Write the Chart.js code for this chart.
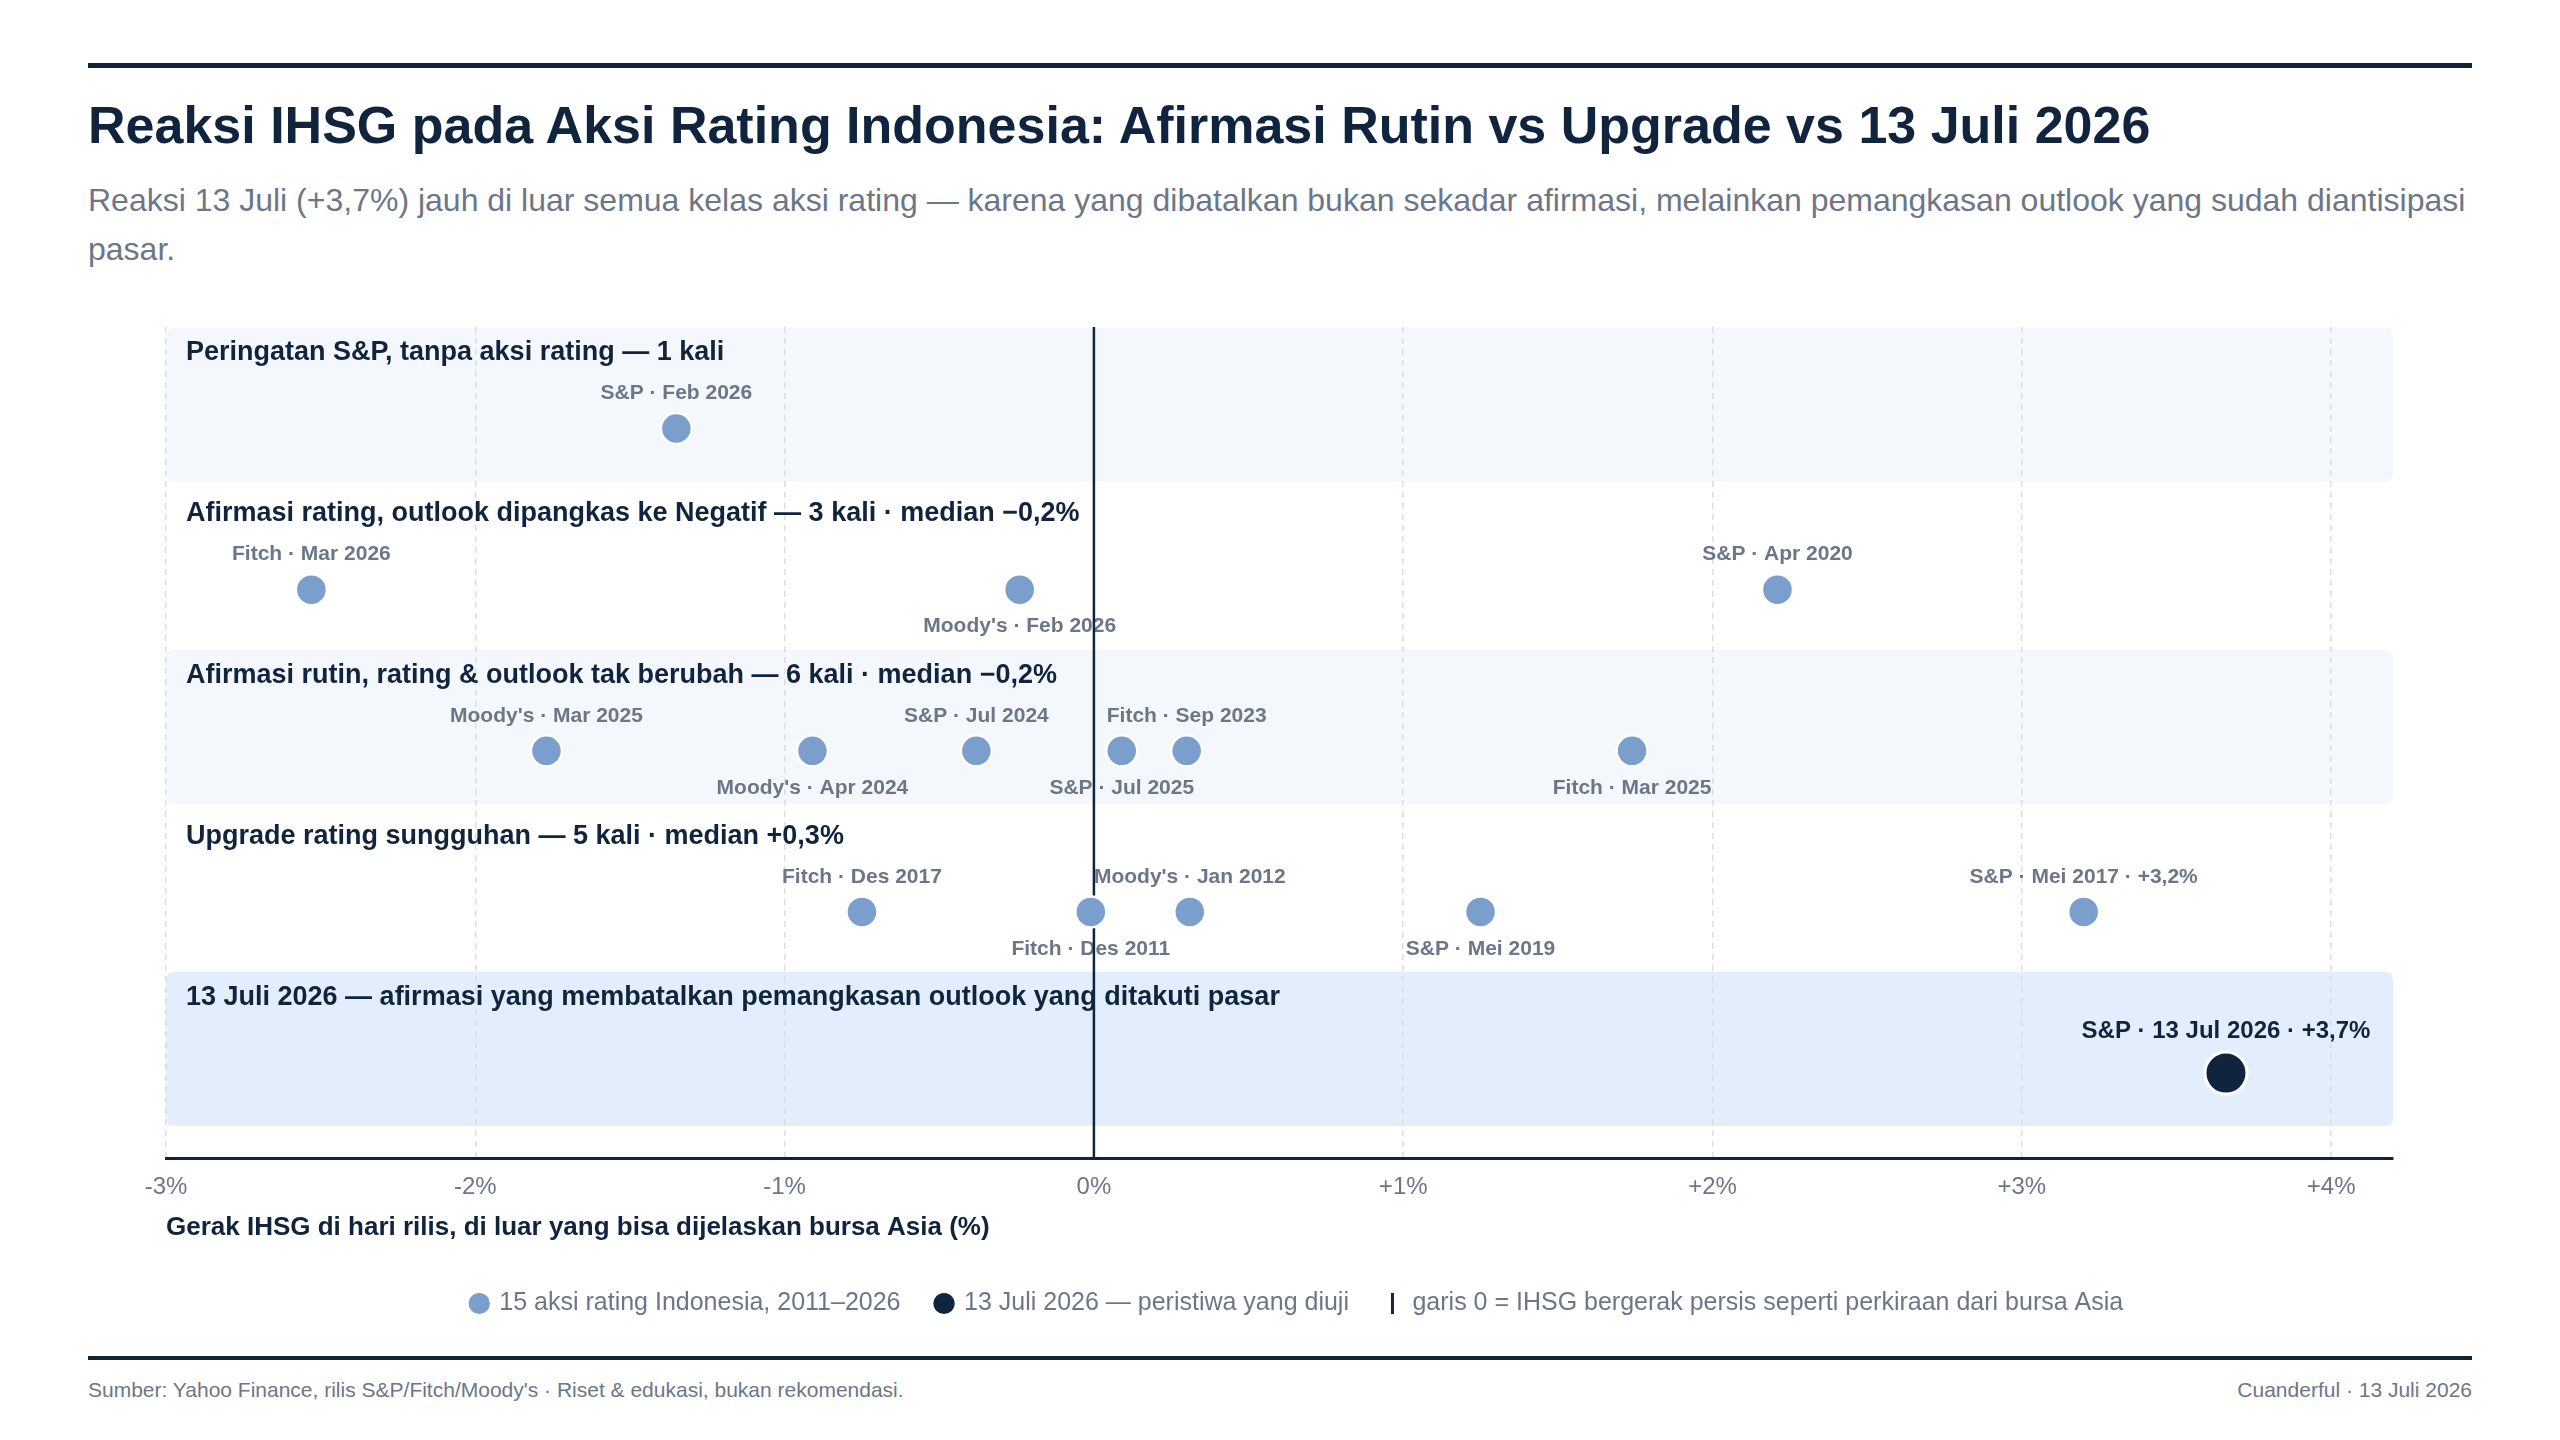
<!DOCTYPE html>
<html lang="id">
<head>
<meta charset="utf-8" />
<title>Reaksi IHSG pada Aksi Rating Indonesia</title>
<script src="https://cdn.jsdelivr.net/npm/chart.js@4.4.1/dist/chart.umd.min.js"></script>
<style>
  html, body { margin: 0; padding: 0; background: #fff; }
  body { width: 2560px; height: 1440px; position: relative; overflow: hidden;
         font-family: "Liberation Sans", Arial, Helvetica, sans-serif; }
  .rule { position: absolute; left: 88px; width: 2384px; background: #10243e; }
  #topRule { top: 63px; height: 5px; }
  #botRule { top: 1356px; height: 4px; }
  h1 { position: absolute; left: 88px; top: 96px; margin: 0; font-size: 52px; line-height: 58px;
       color: #10243e; font-weight: bold; white-space: nowrap; }
  .sub { position: absolute; left: 88px; top: 176px; margin: 0; font-size: 32px; line-height: 49px;
         color: #6b7789; white-space: nowrap; }
  #chartBox { position: absolute; left: 0; top: 300px; width: 2560px; height: 1040px; }
  .foot { position: absolute; top: 1378px; font-size: 21px; line-height: 24px; color: #6b7789; }
</style>
</head>
<body>
  <div class="rule" id="topRule"></div>
  <h1>Reaksi IHSG pada Aksi Rating Indonesia: Afirmasi Rutin vs Upgrade vs 13 Juli 2026</h1>
  <p class="sub">Reaksi 13 Juli (+3,7%) jauh di luar semua kelas aksi rating — karena yang dibatalkan bukan sekadar afirmasi, melainkan pemangkasan outlook yang sudah diantisipasi<br>pasar.</p>

  <div id="chartBox"><canvas id="chart"></canvas></div>

  <div class="rule" id="botRule"></div>
  <div class="foot" style="left:88px">Sumber: Yahoo Finance, rilis S&amp;P/Fitch/Moody's · Riset &amp; edukasi, bukan rekomendasi.</div>
  <div class="foot" style="right:88px">Cuanderful · 13 Juli 2026</div>

<script>
  // rows (top to bottom)
  const rowTitles = [
    "Peringatan S&P, tanpa aksi rating — 1 kali",
    "Afirmasi rating, outlook dipangkas ke Negatif — 3 kali · median −0,2%",
    "Afirmasi rutin, rating & outlook tak berubah — 6 kali · median −0,2%",
    "Upgrade rating sungguhan — 5 kali · median +0,3%",
    "13 Juli 2026 — afirmasi yang membatalkan pemangkasan outlook yang ditakuti pasar"
  ];

  // events: name, IHSG move (%), row index
  const eventNames = [
    "S&P · Feb 2026",
    "Fitch · Mar 2026", "Moody's · Feb 2026", "S&P · Apr 2020",
    "Moody's · Mar 2025", "Moody's · Apr 2024", "S&P · Jul 2024", "S&P · Jul 2025", "Fitch · Sep 2023", "Fitch · Mar 2025",
    "Fitch · Des 2017", "Fitch · Des 2011", "Moody's · Jan 2012", "S&P · Mei 2019", "S&P · Mei 2017 · +3,2%",
    "S&P · 13 Jul 2026 · +3,7%"
  ];
  const eventValues = [
    -1.35,
    -2.53, -0.24, 2.21,
    -1.77, -0.91, -0.38, 0.09, 0.30, 1.74,
    -0.75, -0.01, 0.31, 1.25, 3.20,
    3.66
  ];
  const eventRows = [0, 1, 1, 1, 2, 2, 2, 2, 2, 2, 3, 3, 3, 3, 3, 4];
  const testedRow = 4;

  // labels drawn under the dot instead of above it
  const labelsBelow = ["Moody's · Feb 2026", "Moody's · Apr 2024", "S&P · Jul 2025",
                       "Fitch · Mar 2025", "Fitch · Des 2011", "S&P · Mei 2019"];

  const xTicks = [-3, -2, -1, 0, 1, 2, 3, 4];
  const legendTexts = [
    "15 aksi rating Indonesia, 2011–2026",
    "13 Juli 2026 — peristiwa yang diuji",
    "garis 0 = IHSG bergerak persis seperti perkiraan dari bursa Asia"
  ];

  const NAVY = "#10243e";
  const BLUE = "#7a9fcc";
  const GREY = "#6b7789";
  const FONT = "'Liberation Sans', Arial, Helvetica, sans-serif";
  const Y_MIN = -0.63, Y_MAX = 4.53;

  let pastPts = [], testedPts = [];
  eventNames.forEach((name, i) => {
    let pt = { x: eventValues[i], y: eventRows[i], name: name };
    if (eventRows[i] === testedRow) testedPts.push(pt);
    else pastPts.push(pt);
  });

  // shaded bands + row titles + point labels
  const rowsPlugin = {
    id: "rows",
    afterLayout(chart) {
      // nudge the legend a bit to the right, like the original
      chart.legend.left += 18;
      chart.legend.right += 18;
    },
    beforeDraw(chart) {
      const { ctx, chartArea, scales } = chart;
      ctx.save();
      rowTitles.forEach((t, i) => {
        if (i % 2 !== 0) return;
        let top = scales.y.getPixelForValue(i - 0.627);
        let bot = scales.y.getPixelForValue(i + 0.329);
        ctx.fillStyle = i === testedRow ? "#e2eefb" : "#f4f8fc";
        ctx.beginPath();
        ctx.roundRect(chartArea.left, top, chartArea.right - chartArea.left, bot - top, 7);
        ctx.fill();
      });
      ctx.restore();
    },
    beforeDatasetsDraw(chart) {
      const { ctx, chartArea, scales } = chart;
      ctx.save();
      ctx.textBaseline = "middle";
      ctx.textAlign = "left";
      ctx.fillStyle = NAVY;
      ctx.font = "bold 27px " + FONT;
      rowTitles.forEach((t, i) => {
        ctx.fillText(t, chartArea.left + 20, scales.y.getPixelForValue(i - 0.47));
      });

      ctx.textAlign = "center";
      chart.data.datasets.forEach((ds, di) => {
        if (ds.type === "line") return;
        let meta = chart.getDatasetMeta(di);
        meta.data.forEach((el, j) => {
          let name = ds.data[j].name;
          let tested = ds.data[j].y === testedRow;
          ctx.fillStyle = tested ? NAVY : GREY;
          ctx.font = tested ? "bold 24px " + FONT : "bold 21px " + FONT;
          let dy = labelsBelow.includes(name) ? 37 : (tested ? -42 : -35);
          ctx.fillText(name, el.x, el.y + dy);
        });
      });
      ctx.restore();
    }
  };

  new Chart(document.getElementById("chart"), {
    type: "scatter",
    data: {
      datasets: [
        {
          type: "line",
          label: "zero",
          data: [{ x: 0, y: Y_MIN }, { x: 0, y: Y_MAX }],
          borderColor: NAVY,
          borderWidth: 2.5,
          pointRadius: 0,
          pointHoverRadius: 0,
          order: 3
        },
        {
          label: legendTexts[0],
          data: pastPts,
          backgroundColor: BLUE,
          borderColor: "#ffffff",
          borderWidth: 2.5,
          pointRadius: 15.5,
          pointHoverRadius: 15.5,
          order: 2
        },
        {
          label: legendTexts[1],
          data: testedPts,
          backgroundColor: NAVY,
          borderColor: "#ffffff",
          borderWidth: 3,
          pointRadius: 21,
          pointHoverRadius: 21,
          order: 1
        }
      ]
    },
    options: {
      responsive: true,
      maintainAspectRatio: false,
      animation: false,
      layout: { padding: { left: 166, right: 167, top: 27, bottom: 14 } },
      scales: {
        x: {
          type: "linear",
          min: -3,
          max: 4.2,
          afterBuildTicks: (s) => { s.ticks = xTicks.map((v) => ({ value: v })); },
          afterFit: (s) => { s.height = 96.5; },
          ticks: {
            callback: (v) => (v === 0 ? "0%" : (v > 0 ? "+" : "") + v + "%"),
            color: GREY,
            font: { family: FONT, size: 24 },
            padding: 14,
            maxRotation: 0
          },
          grid: { color: "#dadee4", lineWidth: 1.5, drawTicks: false },
          border: { color: NAVY, width: 3, dash: [6, 5] },
          title: {
            display: true,
            align: "start",
            text: "Gerak IHSG di hari rilis, di luar yang bisa dijelaskan bursa Asia (%)",
            color: NAVY,
            font: { family: FONT, size: 26, weight: "bold" },
            padding: { top: 20, bottom: 11.5 }
          }
        },
        y: {
          type: "linear",
          min: Y_MIN,
          max: Y_MAX,
          reverse: true,
          display: false
        }
      },
      plugins: {
        tooltip: { enabled: false },
        legend: {
          position: "bottom",
          onClick: null,
          labels: {
            usePointStyle: true,
            boxWidth: 15,
            boxHeight: 15,
            padding: 36,
            color: GREY,
            font: { family: FONT, size: 25 },
            generateLabels: () => [
              { text: legendTexts[0], fillStyle: BLUE, strokeStyle: BLUE, lineWidth: 0, pointStyle: "circle", fontColor: GREY },
              { text: legendTexts[1], fillStyle: NAVY, strokeStyle: NAVY, lineWidth: 0, pointStyle: "circle", fontColor: GREY },
              { text: legendTexts[2], fillStyle: NAVY, strokeStyle: NAVY, lineWidth: 3, pointStyle: "line", rotation: 90, fontColor: GREY }
            ]
          }
        }
      }
    },
    plugins: [rowsPlugin]
  });
</script>
</body>
</html>
